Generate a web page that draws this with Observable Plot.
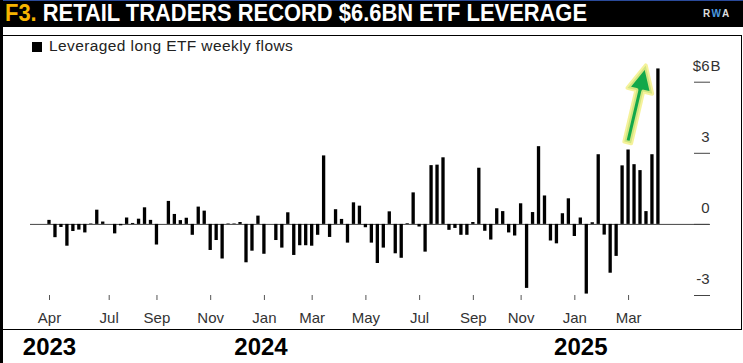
<!DOCTYPE html>
<html><head><meta charset="utf-8">
<script src="https://cdn.jsdelivr.net/npm/d3@7"></script>
<script src="https://cdn.jsdelivr.net/npm/@observablehq/plot@0.6"></script>
<style>
body{margin:0;background:#fff;}
#wrap{position:relative;width:743px;height:363px;overflow:hidden;background:#fff;font-family:"Liberation Sans",Arial,sans-serif;}
#chart{position:absolute;left:0;top:56px;}
#titlebar{position:absolute;left:0;top:0;width:743px;height:27px;background:#000;border-top:1.5px solid #2a4a9a;box-sizing:border-box;}
#title{position:absolute;left:5px;top:0px;white-space:nowrap;font-family:"Liberation Sans Narrow","Liberation Sans",Arial,sans-serif;font-weight:bold;font-size:24px;line-height:24px;color:#fff;transform-origin:0 0;}
#title .f{color:#f6b400;}
#logo{position:absolute;left:703px;top:8px;font-size:10px;line-height:10px;font-weight:bold;color:#ddd;letter-spacing:1.5px;}
#logo .w{color:#4d9be0;}
#leftbar{position:absolute;left:0;top:0;width:3px;height:363px;background:#000;}
#panel{position:absolute;left:0;top:35px;width:742px;height:295px;border-top:1px solid #000;border-right:1px solid #000;border-bottom:1px solid #000;box-sizing:border-box;pointer-events:none;}
#sw{position:absolute;left:32px;top:42px;width:10px;height:10px;background:#000;}
#legend{position:absolute;left:49px;top:38px;font-size:15.5px;line-height:16px;letter-spacing:0.4px;color:#222;white-space:nowrap;}
</style></head>
<body>
<div id="wrap">
  <div id="chart"></div>
  <div id="titlebar"><div id="title"><span class="f">F3.</span> RETAIL TRADERS RECORD $6.6BN ETF LEVERAGE</div><div id="logo">R<span class="w">W</span>A</div></div>
  <div id="leftbar"></div>
  <div id="panel"></div>
  <div id="sw"></div>
  <div id="legend">Leveraged long ETF weekly flows</div>
</div>
<script>
// Weekly leveraged long ETF flows, $ billions (weeks ending Friday, from 2023-04-28)
const firstWeek = "2023-04-28";
const flows = [
  0.17, -0.56, -0.13, -0.92, -0.30, -0.24, -0.36, 0.02, 0.60, 0.10,
  0.00, -0.40, -0.06, 0.27, 0.04, 0.22, 0.70, 0.17, -0.87, 0.00,
  0.97, 0.42, 0.16, 0.26, -0.46, 0.73, 0.56, -1.10, -0.68, -1.46,
  0.02, 0.02, 0.08, -1.62, -1.13, 0.35, -1.26, 0.00, -0.68, -1.00,
  0.49, -1.31, -0.90, -0.90, -0.92, -0.46, 2.89, -0.55, 0.62, 0.21,
  -0.79, 0.91, 0.77, -0.14, -0.79, -1.65, -1.00, 0.53, -1.24, -1.43,
  0.03, 1.33, -0.11, -1.17, 2.48, 2.50, 2.81, -0.25, -0.17, -0.46,
  -0.46, 0.08, 2.37, -0.29, -0.66, 0.66, 0.54, -0.36, -0.49, 0.87,
  -2.70, 0.50, 3.28, 1.20, -0.70, -0.82, 0.45, 1.08, -0.51, 0.27,
  -2.94, 0.07, 2.94, -0.45, -2.06, -1.35, 2.47, 3.14, 2.52, 2.27,
  0.54, 2.94, 6.56
];
const monthTicks = ["2023-04-28","2023-07-07","2023-09-01","2023-11-03","2024-01-05","2024-03-01","2024-05-03","2024-07-05","2024-09-06","2024-11-01","2025-01-03","2025-03-07"];
const monthLabels = ["Apr","Jul","Sep","Nov","Jan","Mar","May","Jul","Sep","Nov","Jan","Mar"];
const yearTicks = ["2023-04-28","2024-01-01","2025-01-10"];
const yearLabels = ["2023","2024","2025"];
const yTicks = [-3, 0, 3, 6];
const yLabels = ["-3", "0", "3", "$6"];
const arrowNote = [{date: "2025-03-06", value: 3.46}];

const DAY = 864e5;
const week0 = new Date(firstWeek);
const table = flows.map((v, i) => ({date: new Date(+week0 + i * 7 * DAY), value: v}));
const lastWeek = table[table.length - 1].date;
const mDates = monthTicks.map(s => new Date(s));
const mMap = new Map(mDates.map((d, i) => [+d, monthLabels[i]]));
const yDates = yearTicks.map(s => new Date(s));
const yMap = new Map(yDates.map((d, i) => [+d, yearLabels[i]]));
const yLabMap = new Map(yTicks.map((d, i) => [d, yLabels[i]]));
const arrows = arrowNote.map(d => ({date: new Date(d.date), value: d.value}));

const arrowShape = {
  draw(ctx, l) {
    const w = 3.5, hw = 12.7, hl = 26;
    ctx.moveTo(-w, 0);
    ctx.lineTo(-w, -l + hl);
    ctx.lineTo(-hw, -l + hl);
    ctx.lineTo(0, -l);
    ctx.lineTo(hw, -l + hl);
    ctx.lineTo(w, -l + hl);
    ctx.lineTo(w, 0);
    ctx.closePath();
  }
};

const font = "Liberation Sans, Arial, sans-serif";
const chart = Plot.plot({
  width: 743,
  height: 307,
  marginLeft: 30,
  marginRight: 34,
  marginTop: 2,
  marginBottom: 68,
  style: {background: "transparent", fontFamily: font},
  x: {type: "utc", domain: [new Date(+week0 - 22.28 * DAY), new Date(+lastWeek + 59.9 * DAY)]},
  y: {domain: [-3, 7]},
  marks: [
    Plot.ruleY([0], {stroke: "#444", strokeWidth: 1}),
    Plot.rectY(table, {
      x1: d => new Date(+d.date - 3.5 * DAY),
      x2: d => new Date(+d.date + 3.5 * DAY),
      y1: 0, y2: "value", fill: "#000", insetLeft: 1.33, insetRight: 1.33
    }),
    // short tick segments inside the frame, at the right end
    Plot.axisY({
      anchor: "right", ticks: yTicks, tickSize: -16, stroke: "#444",
      tickFormat: () => "", label: null
    }),
    // labels above the tick segments
    Plot.axisY({
      anchor: "right", ticks: yTicks, tickSize: 0, tickPadding: 0,
      textAnchor: "end", dx: 0, dy: -16,
      tickFormat: d => yLabMap.get(d), fontSize: 15, fill: "#333", label: null
    }),
    Plot.text([6], {y: d => d, frameAnchor: "right", text: () => "B", textAnchor: "start", dx: 1, dy: -16, fontSize: 15, fill: "#333"}),
    Plot.axisX({
      ticks: mDates, tickFormat: d => mMap.get(+d), tickSize: 5, tickPadding: 12,
      stroke: "#555", fontSize: 15, fill: "#333", label: null
    }),
    Plot.axisX({
      ticks: yDates, tickFormat: d => yMap.get(+d), tickSize: 0, tickPadding: 42,
      fontSize: 24, fontWeight: "bold", fill: "#000", label: null
    }),
    Plot.vector(arrows, {
      x: "date", y: "value", length: 79, rotate: 13.2, anchor: "start",
      shape: arrowShape, fill: "#12a84a", stroke: "#f3f08a", strokeWidth: 4, strokeOpacity: 0.85, strokeLinejoin: "round"
    })
  ]
});
document.getElementById("chart").appendChild(chart);

// fit title width to the reference's span
const t = document.getElementById("title");
const w = t.getBoundingClientRect().width;
t.style.transform = `scaleX(${582 / w})`;
</script>
</body></html>
